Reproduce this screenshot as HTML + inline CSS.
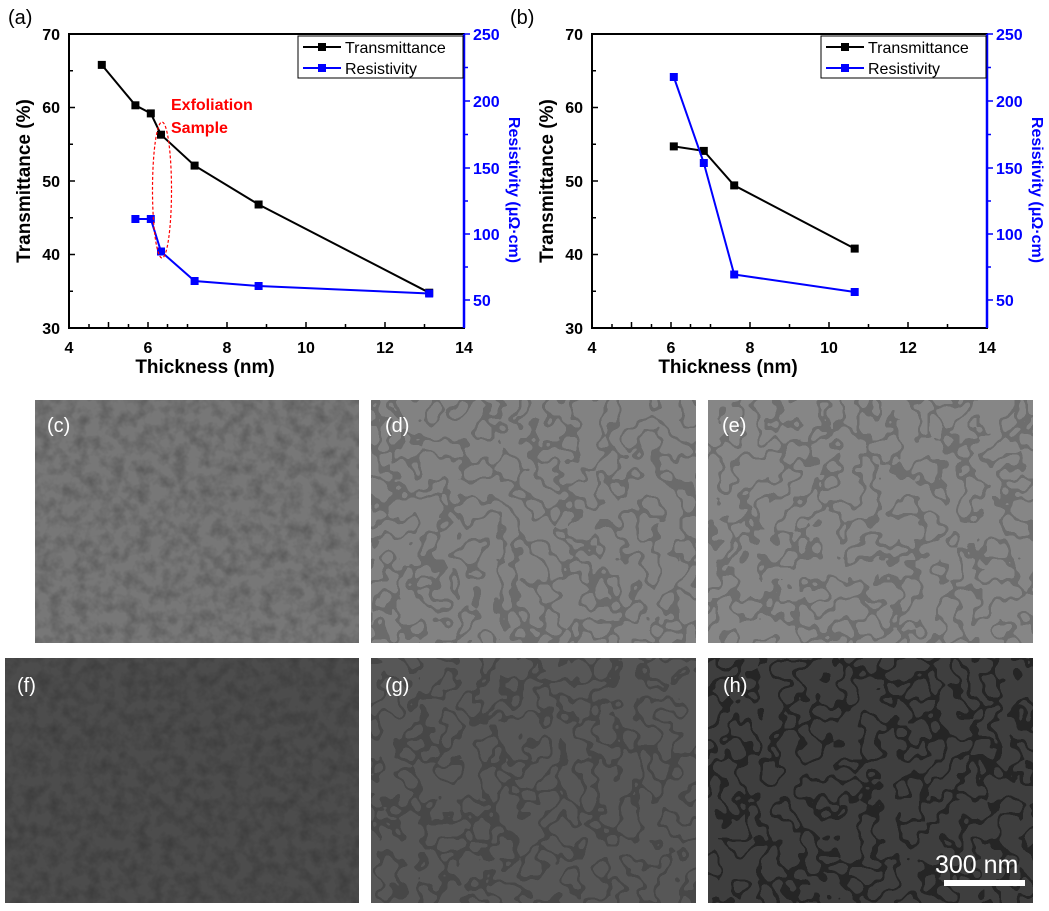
<!DOCTYPE html>
<html><head><meta charset="utf-8"><style>
body{margin:0;background:#fff;width:1049px;height:911px;overflow:hidden}
svg{display:block}
text{font-family:"Liberation Sans",sans-serif}
</style></head><body>
<svg width="1049" height="911" viewBox="0 0 1049 911" xmlns="http://www.w3.org/2000/svg">
<defs>
<filter id="n1" x="0" y="0" width="100%" height="100%">
<feTurbulence type="fractalNoise" baseFrequency="0.08" numOctaves="3" seed="3"/>
<feColorMatrix type="matrix" values="0 0 0 0 0  0 0 0 0 0  0 0 0 0 0  0 0 0 -1.2 0.75"/>
<feComposite in2="SourceGraphic" operator="in"/>
</filter>
<filter id="n2" x="0" y="0" width="100%" height="100%">
<feTurbulence type="fractalNoise" baseFrequency="0.05" numOctaves="2" seed="7"/>
<feComponentTransfer><feFuncA type="discrete" tableValues="0 0 0 0 0 0.8 0 0 0 0"/></feComponentTransfer>
<feColorMatrix type="matrix" values="0 0 0 0 0  0 0 0 0 0  0 0 0 0 0  0 0 0 1 0"/>
<feComposite in2="SourceGraphic" operator="in"/>
</filter>
</defs>

<!-- Chart (a) -->
<text x="8" y="24" font-size="20">(a)</text>
<rect x="69" y="34" width="395" height="294" fill="none" stroke="#000" stroke-width="2"/>
<line x1="464" y1="34" x2="464" y2="328" stroke="#00f" stroke-width="2.5"/>
<g stroke="#000" stroke-width="1.5">
<path d="M69 34h6M69 70.75h4M69 107.5h6M69 144.25h4M69 181h6M69 217.75h4M69 254.5h6M69 291.25h4"/>
<path d="M108.5 328v-6M148 328v-6M187.5 328v-4M227 328v-6M266.5 328v-4M306 328v-6M345.5 328v-4M385 328v-6M424.5 328v-4"/>
<path d="M89 328v-4M128.5 328v-4M167.5 328v-4"/>
</g>
<g stroke="#00f" stroke-width="1.5"><path d="M464 34h6M464 101h6M464 168h6M464 234h6M464 300h6M464 67.5h4M464 134.5h4M464 201h4M464 267h4"/></g>
<g font-size="16" font-weight="bold" text-anchor="end">
<text x="60" y="40">70</text><text x="60" y="113">60</text><text x="60" y="187">50</text><text x="60" y="260">40</text><text x="60" y="334">30</text>
</g>
<g font-size="16" font-weight="bold" text-anchor="middle">
<text x="69" y="353">4</text><text x="148" y="353">6</text><text x="227" y="353">8</text><text x="306" y="353">10</text><text x="385" y="353">12</text><text x="464" y="353">14</text>
</g>
<g font-size="16" font-weight="bold" fill="#00f">
<text x="473" y="40">250</text><text x="473" y="107">200</text><text x="473" y="174">150</text><text x="473" y="240">100</text><text x="473" y="306">50</text>
</g>
<text x="205" y="373" font-size="19" font-weight="bold" text-anchor="middle">Thickness (nm)</text>
<text transform="translate(30 181) rotate(-90)" font-size="19" font-weight="bold" text-anchor="middle">Transmittance (%)</text>
<text transform="translate(509 190) rotate(90)" font-size="16" font-weight="bold" text-anchor="middle" fill="#00f">Resistivity (μΩ·cm)</text>
<polyline fill="none" stroke="#000" stroke-width="2" points="101.8,64.9 135.4,105.3 150.8,113.4 161,134.7 194.6,165.6 258.6,204.5 429.2,292.7"/>
<g fill="#000"><rect x="97.8" y="60.9" width="8" height="8"/><rect x="131.4" y="101.3" width="8" height="8"/><rect x="146.8" y="109.4" width="8" height="8"/><rect x="157" y="130.7" width="8" height="8"/><rect x="190.6" y="161.6" width="8" height="8"/><rect x="254.6" y="200.5" width="8" height="8"/><rect x="425.2" y="288.7" width="8" height="8"/></g>
<polyline fill="none" stroke="#00f" stroke-width="2" points="135.4,219 150.8,219 161,251.5 194.6,281 258.6,286 429.2,293.5"/>
<g fill="#00f"><rect x="131.4" y="215" width="8" height="8"/><rect x="146.8" y="215" width="8" height="8"/><rect x="157" y="247.5" width="8" height="8"/><rect x="190.6" y="277" width="8" height="8"/><rect x="254.6" y="282" width="8" height="8"/><rect x="425.2" y="289.5" width="8" height="8"/></g>
<ellipse cx="162" cy="190" rx="9.5" ry="68" fill="none" stroke="#f00" stroke-width="1.2" stroke-dasharray="3 2"/>
<text x="171" y="110" font-size="16" font-weight="bold" fill="#f00">Exfoliation</text>
<text x="171" y="133" font-size="16" font-weight="bold" fill="#f00">Sample</text>
<rect x="298" y="36" width="165" height="42" fill="#fff" stroke="#000" stroke-width="1"/>
<line x1="303" y1="47" x2="341" y2="47" stroke="#000" stroke-width="2"/><rect x="318" y="43" width="8" height="8"/>
<line x1="303" y1="68" x2="341" y2="68" stroke="#00f" stroke-width="2"/><rect x="318" y="64" width="8" height="8" fill="#00f"/>
<text x="345" y="53" font-size="16">Transmittance</text>
<text x="345" y="74" font-size="16">Resistivity</text>

<!-- Chart (b) -->
<text x="510" y="24" font-size="20">(b)</text>
<rect x="592" y="34" width="395" height="294" fill="none" stroke="#000" stroke-width="2"/>
<line x1="987" y1="34" x2="987" y2="328" stroke="#00f" stroke-width="2.5"/>
<g stroke="#000" stroke-width="1.5">
<path d="M592 34h6M592 70.75h4M592 107.5h6M592 144.25h4M592 181h6M592 217.75h4M592 254.5h6M592 291.25h4"/>
<path d="M631.5 328v-6M671 328v-6M710.5 328v-4M750 328v-6M789.5 328v-4M829 328v-6M868.5 328v-4M908 328v-6M947.5 328v-4M612 328v-4M651.5 328v-4M690.5 328v-4"/>
</g>
<g stroke="#00f" stroke-width="1.5"><path d="M987 34h6M987 101h6M987 168h6M987 234h6M987 300h6M987 67.5h4M987 134.5h4M987 201h4M987 267h4"/></g>
<g font-size="16" font-weight="bold" text-anchor="end">
<text x="583" y="40">70</text><text x="583" y="113">60</text><text x="583" y="187">50</text><text x="583" y="260">40</text><text x="583" y="334">30</text>
</g>
<g font-size="16" font-weight="bold" text-anchor="middle">
<text x="592" y="353">4</text><text x="671" y="353">6</text><text x="750" y="353">8</text><text x="829" y="353">10</text><text x="908" y="353">12</text><text x="987" y="353">14</text>
</g>
<g font-size="16" font-weight="bold" fill="#00f">
<text x="996" y="40">250</text><text x="996" y="107">200</text><text x="996" y="174">150</text><text x="996" y="240">100</text><text x="996" y="306">50</text>
</g>
<text x="728" y="373" font-size="19" font-weight="bold" text-anchor="middle">Thickness (nm)</text>
<text transform="translate(553 181) rotate(-90)" font-size="19" font-weight="bold" text-anchor="middle">Transmittance (%)</text>
<text transform="translate(1032 190) rotate(90)" font-size="16" font-weight="bold" text-anchor="middle" fill="#00f">Resistivity (μΩ·cm)</text>
<polyline fill="none" stroke="#000" stroke-width="2" points="673.8,146.4 703.8,150.9 734.2,185.4 854.7,248.6"/>
<g fill="#000"><rect x="669.8" y="142.4" width="8" height="8"/><rect x="699.8" y="146.9" width="8" height="8"/><rect x="730.2" y="181.4" width="8" height="8"/><rect x="850.7" y="244.6" width="8" height="8"/></g>
<polyline fill="none" stroke="#00f" stroke-width="2" points="673.8,77 703.8,163 734.2,274.5 854.7,292"/>
<g fill="#00f"><rect x="669.8" y="73" width="8" height="8"/><rect x="699.8" y="159" width="8" height="8"/><rect x="730.2" y="270.5" width="8" height="8"/><rect x="850.7" y="288" width="8" height="8"/></g>
<rect x="821" y="36" width="165" height="42" fill="#fff" stroke="#000" stroke-width="1"/>
<line x1="826" y1="47" x2="864" y2="47" stroke="#000" stroke-width="2"/><rect x="841" y="43" width="8" height="8"/>
<line x1="826" y1="68" x2="864" y2="68" stroke="#00f" stroke-width="2"/><rect x="841" y="64" width="8" height="8" fill="#00f"/>
<text x="868" y="53" font-size="16">Transmittance</text>
<text x="868" y="74" font-size="16">Resistivity</text>

<!-- SEM panels -->
<g>
<rect x="35" y="400" width="324" height="243" fill="#777"/><rect x="35" y="400" width="324" height="243" fill="#777" filter="url(#n1)" opacity="0.35"/>
<rect x="371" y="400" width="325" height="243" fill="#828282"/><rect x="371" y="400" width="325" height="243" fill="#828282" filter="url(#n2)" opacity="0.22"/>
<rect x="708" y="400" width="325" height="243" fill="#868686"/><rect x="708" y="400" width="325" height="243" fill="#868686" filter="url(#n2)" opacity="0.22"/>
<rect x="5" y="658" width="354" height="245" fill="#4c4c4c"/><rect x="5" y="658" width="354" height="245" fill="#4c4c4c" filter="url(#n1)" opacity="0.3"/>
<rect x="371" y="658" width="325" height="245" fill="#575757"/><rect x="371" y="658" width="325" height="245" fill="#575757" filter="url(#n2)" opacity="0.22"/>
<rect x="708" y="658" width="325" height="245" fill="#3e3e3e"/><rect x="708" y="658" width="325" height="245" fill="#3e3e3e" filter="url(#n2)" opacity="0.5"/>
</g>
<g font-size="20" fill="#fff">
<text x="47" y="432">(c)</text><text x="385" y="432">(d)</text><text x="722" y="432">(e)</text>
<text x="17" y="692">(f)</text><text x="385" y="692">(g)</text><text x="723" y="692">(h)</text>
</g>
<text x="935" y="873" font-size="25" fill="#fff">300 nm</text>
<rect x="944" y="880" width="81" height="6" fill="#fff"/>
</svg>
</body></html>
